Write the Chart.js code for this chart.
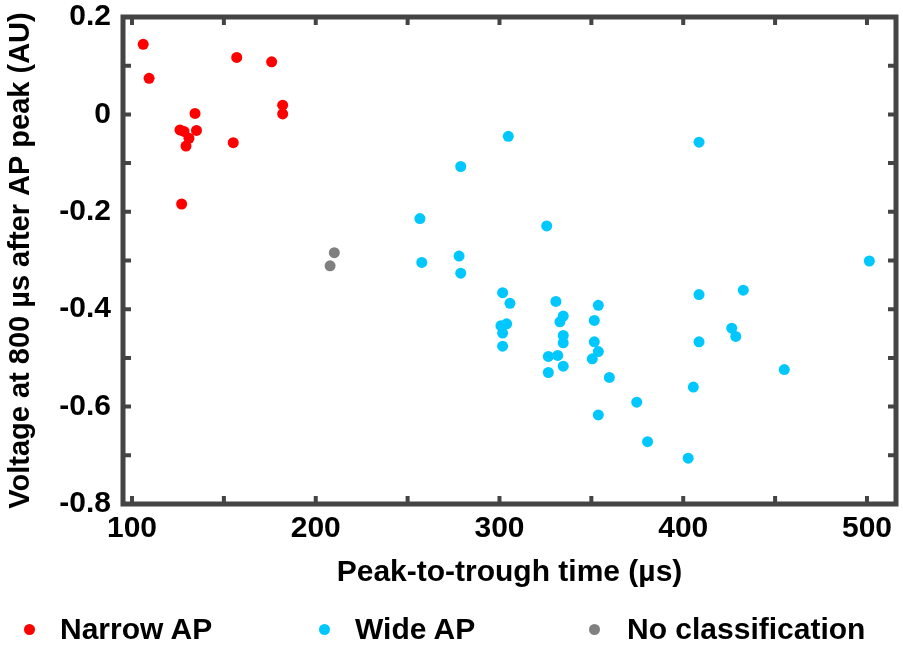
<!DOCTYPE html>
<html>
<head>
<meta charset="utf-8">
<script src="https://cdn.jsdelivr.net/npm/chart.js@4.4.1/dist/chart.umd.min.js"></script>
<style>
  body { margin: 0; background: #fff; }
  #wrap { position: relative; width: 903px; height: 648px; }
  .lg { position: absolute; top: 611px; font: bold 30px "Liberation Sans", Arial, sans-serif; color: #000; line-height: 36px; white-space: nowrap; }
  .lg i { position: absolute; width: 11px; height: 11px; border-radius: 50%; top: 13px; }
</style>
</head>
<body>
<div id="wrap">
  <canvas id="grafico1"></canvas>
  <div class="lg" style="left:60px"><i style="left:-36px;background:#ff0000"></i>Narrow AP</div>
  <div class="lg" style="left:355px"><i style="left:-36px;background:#00c8ff"></i>Wide AP</div>
  <div class="lg" style="left:627px"><i style="left:-38px;background:#808080"></i>No classification</div>
</div>
<script>
// Peak-to-trough time (us) e voltagem (AU) por grupo
const narrowX = [106.1, 109.3, 157.0, 176.0, 182.0, 182.0, 134.3, 126.1, 128.3, 135.1, 131.0, 129.4, 155.1, 127.0];
const narrowY = [0.144, 0.074, 0.117, 0.108, 0.019, 0.001, 0.002, -0.032, -0.035, -0.033, -0.049, -0.065, -0.058, -0.184];

const wideX = [256.7, 257.7, 304.8, 278.9, 325.7, 278.0, 278.9, 301.7, 305.7, 330.7, 353.8, 334.7, 332.9, 351.6,
  303.9, 300.8, 301.7, 334.7, 334.7, 351.6, 353.8, 350.5, 301.7, 326.6, 331.7, 334.7, 326.6, 359.8, 374.7, 353.8,
  408.6, 501.3, 408.6, 432.7, 426.4, 428.6, 408.6, 455.0, 405.5, 380.6, 402.7];
const wideY = [-0.214, -0.304, -0.045, -0.107, -0.229, -0.291, -0.326, -0.366, -0.388, -0.384, -0.392, -0.414, -0.426, -0.423,
  -0.430, -0.434, -0.449, -0.454, -0.469, -0.467, -0.487, -0.502, -0.476, -0.497, -0.495, -0.517, -0.530, -0.540, -0.591, -0.617,
  -0.057, -0.301, -0.370, -0.361, -0.439, -0.456, -0.467, -0.524, -0.560, -0.672, -0.706];

const noclassX = [210.1, 207.8];
const noclassY = [-0.284, -0.311];

const xTicksLabeled = [100, 200, 300, 400, 500];
const yTicksLabeled = [0.2, 0, -0.2, -0.4, -0.6, -0.8];

const toPoints = (xs, ys) => xs.map((x, i) => ({ x: x, y: ys[i] }));
const FONT = { family: '"Liberation Sans", Arial, sans-serif', size: 30, weight: 'bold' };

// moldura e ticks para dentro
const frame = {
  id: 'frame',
  afterDatasetsDraw(chart) {
    const { ctx, chartArea: a, scales: { x, y } } = chart;
    ctx.save();
    ctx.strokeStyle = '#444';
    ctx.lineWidth = 4;
    const len = 8;
    x.ticks.forEach(t => {
      const px = x.getPixelForValue(t.value);
      ctx.beginPath();
      ctx.moveTo(px, a.bottom); ctx.lineTo(px, a.bottom - len);
      ctx.moveTo(px, a.top); ctx.lineTo(px, a.top + len);
      ctx.stroke();
    });
    y.ticks.forEach(t => {
      const py = y.getPixelForValue(t.value);
      ctx.beginPath();
      ctx.moveTo(a.left, py); ctx.lineTo(a.left + len, py);
      ctx.moveTo(a.right, py); ctx.lineTo(a.right - len, py);
      ctx.stroke();
    });
    ctx.lineWidth = 5;
    ctx.strokeRect(a.left, a.top, a.right - a.left, a.bottom - a.top);
    ctx.restore();
  }
};

const ctx = document.getElementById('grafico1');
new Chart(ctx, {
  type: 'scatter',
  data: {
    datasets: [
      { label: 'Narrow AP', data: toPoints(narrowX, narrowY), backgroundColor: '#ff0000', borderWidth: 0, pointRadius: 5.5 },
      { label: 'Wide AP', data: toPoints(wideX, wideY), backgroundColor: '#00c8ff', borderWidth: 0, pointRadius: 5.5 },
      { label: 'No classification', data: toPoints(noclassX, noclassY), backgroundColor: '#808080', borderWidth: 0, pointRadius: 5.5 }
    ]
  },
  options: {
    responsive: true,
    maintainAspectRatio: false,
    animation: false,
    layout: { autoPadding: false, padding: { top: 17, right: 7, left: 0, bottom: 48 } },
    plugins: { legend: { display: false }, tooltip: { enabled: false } },
    scales: {
      x: {
        min: 95.1, max: 515.8,
        afterFit: s => { s.height = 96; },
        grid: { display: false, drawTicks: false },
        border: { display: false },
        ticks: {
          stepSize: 50, includeBounds: false, autoSkip: false, maxRotation: 0, padding: 7,
          color: '#000', font: FONT,
          callback: v => xTicksLabeled.includes(v) ? String(v) : ''
        },
        title: { display: true, text: 'Peak-to-trough time (µs)', color: '#000', font: FONT, padding: { top: 0, bottom: 9 } }
      },
      y: {
        min: -0.8, max: 0.2,
        afterFit: s => { s.width = 123; },
        grid: { display: false, drawTicks: false },
        border: { display: false },
        ticks: {
          stepSize: 0.1, includeBounds: false, autoSkip: false, padding: 12,
          color: '#000', font: Object.assign({}, FONT, { lineHeight: 0.2 }),
          callback: v => {
            const r = Math.round(v * 10) / 10;
            return yTicksLabeled.includes(r) ? String(r === 0 ? 0 : r) : '';
          }
        },
        title: { display: true, text: 'Voltage at 800 µs after AP peak (AU)', color: '#000', font: Object.assign({}, FONT, { size: 29 }), padding: { top: 4, bottom: 0 } }
      }
    }
  },
  plugins: [frame]
});
</script>
</body>
</html>
